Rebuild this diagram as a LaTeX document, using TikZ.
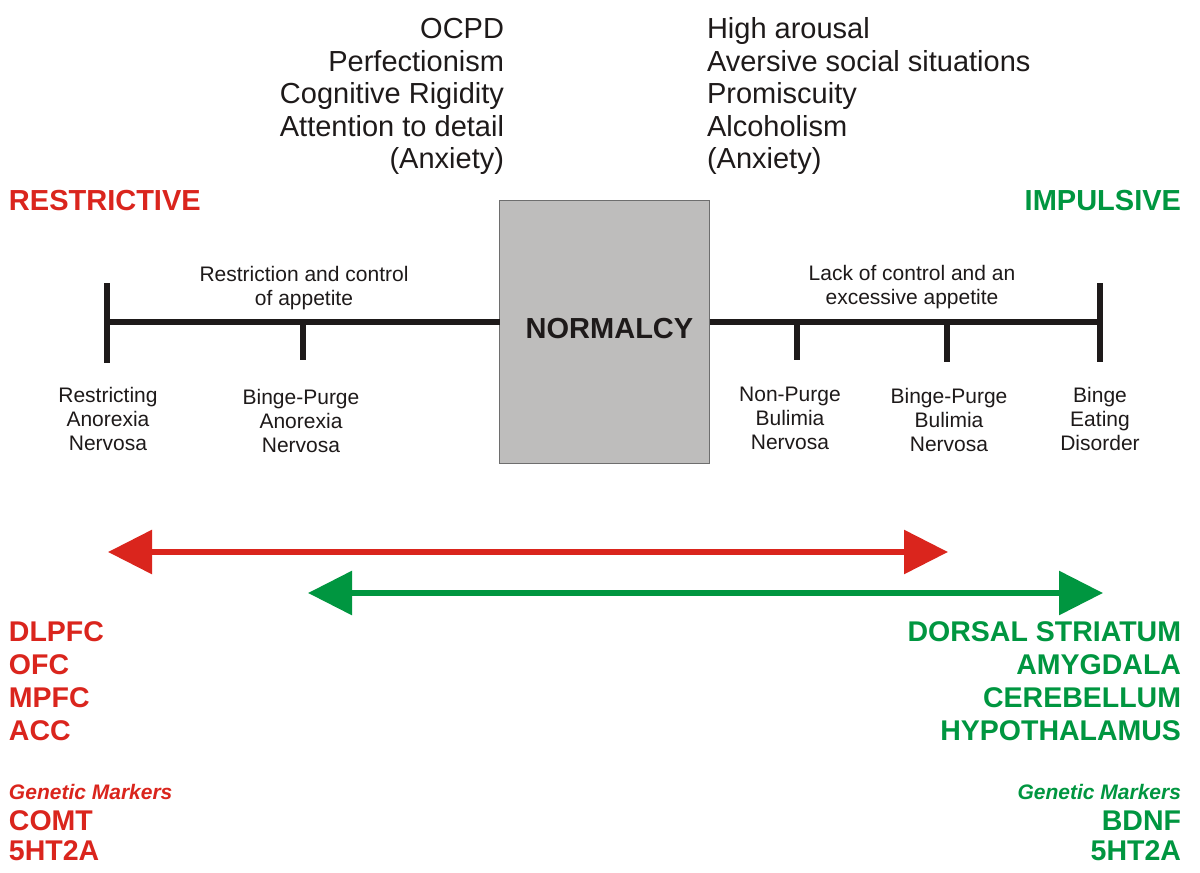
\documentclass[tikz,border=0pt]{standalone}
\usepackage{fontspec}
\setmainfont{Liberation Sans}
\usetikzlibrary{arrows.meta}
\definecolor{rred}{RGB}{218,37,29}
\definecolor{igreen}{RGB}{0,150,64}
\definecolor{boxgray}{RGB}{190,189,188}
\definecolor{boxedge}{RGB}{110,110,110}
\definecolor{ink}{RGB}{30,26,26}
\begin{document}
\begin{tikzpicture}[x=1pt,y=-1pt,
  every node/.style={inner sep=0pt, outer sep=0pt, text=ink},
  trait/.style={font=\fontsize{29}{32.5}\selectfont},
  pole/.style={font=\fontsize{29}{33}\selectfont\bfseries},
  small/.style={font=\fontsize{21}{24}\selectfont, align=center, anchor=base},
  region/.style={font=\fontsize{28.5}{33}\selectfont\bfseries},
  gene/.style={font=\fontsize{28.5}{30}\selectfont\bfseries},
  gm/.style={font=\fontsize{21}{24}\selectfont\bfseries\itshape},
  axis/.style={line width=6.5pt, draw=ink},
  span/.style={line width=6pt, {Triangle[length=44pt,width=43pt]}-{Triangle[length=44pt,width=43pt]}}
]
\useasboundingbox (0,0) rectangle (1200,873);
\fill[white] (0,0) rectangle (1200,873);

% traits (base = baseline of last line)
\node[trait, align=right, anchor=base east] (ltraits) at (504,168.5) {OCPD\\Perfectionism\\Cognitive Rigidity\\Attention to detail\\(Anxiety)};
\node[trait, align=left, anchor=base west] (rtraits) at (707,168.5) {High arousal\\Aversive social situations\\Promiscuity\\Alcoholism\\(Anxiety)};

% poles
\node[pole, text=rred, anchor=base west] (restr) at (9,210) {RESTRICTIVE};
\node[pole, text=igreen, anchor=base east] (impul) at (1181,210) {IMPULSIVE};

% normalcy box
\node[draw=boxedge, fill=boxgray, line width=1pt, minimum width=210pt, minimum height=263pt] (norm) at (604.5,331.5) {};
\node[font=\fontsize{29}{29}\selectfont\bfseries, anchor=base] (normtxt) at (609.5,338) {NORMALCY};

% axis
\coordinate (lend) at (107,322);
\coordinate (rend) at (1100,322);
\coordinate (ta) at (303,322);
\coordinate (tb) at (797,322);
\coordinate (tc) at (947,322);
\draw[axis] (lend) -- (norm.west |- lend);
\draw[axis] (norm.east |- rend) -- (rend);
\draw[axis] ([yshift=39pt]lend) -- ([yshift=-41pt]lend);
\draw[axis] ([yshift=39pt]rend) -- ([yshift=-40pt]rend);
\draw[axis] (ta) -- ++(0,38);
\draw[axis] (tb) -- ++(0,38);
\draw[axis] (tc) -- ++(0,40);

% labels
\node[small] (lbl1) at (304,305.5) {Restriction and control\\of appetite};
\node[small] (lbl2) at (912,304.5) {Lack of control and an\\excessive appetite};
\node[small] (ran) at (108,450.5) {Restricting\\Anorexia\\Nervosa};
\node[small] (bpan) at (301,452.5) {Binge-Purge\\Anorexia\\Nervosa};
\node[small] (npbn) at (790,449.5) {Non-Purge\\Bulimia\\Nervosa};
\node[small] (bpbn) at (949,451) {Binge-Purge\\Bulimia\\Nervosa};
\node[small] (bed) at (1100,450.5) {Binge\\Eating\\Disorder};

% spans
\coordinate (ra) at (108,552);
\coordinate (rb) at (948,552);
\coordinate (ga) at (308,593);
\coordinate (gb) at (1103,593);
\draw[span, draw=rred] (ra) -- (rb);
\draw[span, draw=igreen] (ga) -- (gb);

% brain regions
\node[region, text=rred, align=left, anchor=base west] (lreg) at (9,740) {DLPFC\\OFC\\MPFC\\ACC};
\node[gm, text=rred, anchor=base west] (lgm) at (9,799) {Genetic Markers};
\node[gene, text=rred, align=left, anchor=base west] (lgen) at (9,860) {COMT\\5HT2A};

\node[region, text=igreen, align=right, anchor=base east] (rreg) at (1181,740) {DORSAL STRIATUM\\AMYGDALA\\CEREBELLUM\\HYPOTHALAMUS};
\node[gm, text=igreen, anchor=base east] (rgm) at (1181,799) {Genetic Markers};
\node[gene, text=igreen, align=right, anchor=base east] (rgen) at (1181,860) {BDNF\\5HT2A};
\end{tikzpicture}
\end{document}
